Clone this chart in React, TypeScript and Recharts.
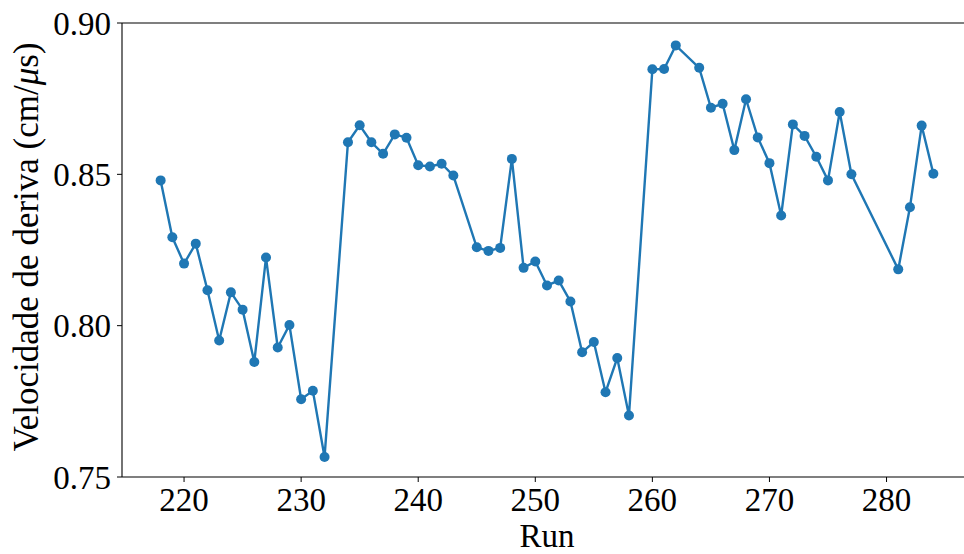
import React from 'react';
import { LineChart, Line, XAxis, YAxis, ReferenceLine } from 'recharts';

const runs = [
  218, 219, 220, 221, 222, 223, 224, 225, 226, 227, 228, 229, 230, 231, 232,
  234, 235, 236, 237, 238, 239, 240, 241, 242, 243, 245, 246, 247, 248, 249,
  250, 251, 252, 253, 254, 255, 256, 257, 258, 260, 261, 262, 264, 265, 266,
  267, 268, 269, 270, 271, 272, 273, 274, 275, 276, 277, 281, 282, 283, 284,
];

const velocities = [
  0.8480, 0.8292, 0.8205, 0.8271, 0.8117, 0.7951, 0.8110, 0.8053, 0.7880, 0.8225,
  0.7928, 0.8002, 0.7757, 0.7785, 0.7566,
  0.8606, 0.8662, 0.8606, 0.8568, 0.8632, 0.8621, 0.8530, 0.8526, 0.8535, 0.8496,
  0.8259, 0.8247, 0.8257, 0.8551, 0.8191,
  0.8212, 0.8133, 0.8149, 0.8080, 0.7912, 0.7946, 0.7780, 0.7893, 0.7703,
  0.8847, 0.8848, 0.8926, 0.8852, 0.8720, 0.8733,
  0.8580, 0.8748, 0.8622, 0.8537, 0.8364, 0.8665, 0.8627, 0.8558, 0.8480,
  0.8706, 0.8500, 0.8186, 0.8391, 0.8661, 0.8502,
];

const xTicks = [220, 230, 240, 250, 260, 270, 280];
const yTicks = [0.75, 0.8, 0.85, 0.9];

const data = runs.map((run, i) => ({ run, v: velocities[i] }));

const font = '"Liberation Serif", "Times New Roman", serif';
const blue = '#1f77b4';

const YLabel = () => (
  <text
    x={38}
    y={247}
    transform="rotate(-90 38 247)"
    textAnchor="middle"
    fontFamily={font}
    fontSize={35}
    fill="#000"
  >
    Velocidade de deriva (cm/<tspan fontStyle="italic">μ</tspan>s)
  </text>
);

export default function App() {
  return (
    <div style={{ position: 'absolute', left: 0, top: 0, width: 964, height: 554, overflow: 'hidden', background: '#fff' }}>
      <LineChart width={980} height={554} data={data} margin={{ top: 23, right: 8, bottom: 0, left: 0 }}>
        <XAxis
          dataKey="run"
          type="number"
          domain={[214.7, 287.3]}
          allowDataOverflow
          ticks={xTicks}
          height={77}
          tickSize={5}
          tickMargin={6}
          stroke="#000"
          tick={{ fill: '#000', fontFamily: font, fontSize: 33 }}
          tickLine={{ stroke: '#000' }}
          axisLine={{ stroke: '#000', strokeWidth: 1.1 }}
          label={{ value: 'Run', position: 'insideBottom', offset: 7, fill: '#000', fontFamily: font, fontSize: 33 }}
        />
        <YAxis
          type="number"
          domain={[0.75, 0.9]}
          allowDataOverflow
          ticks={yTicks}
          width={122}
          tickSize={5}
          tickMargin={6}
          stroke="#000"
          tickFormatter={(t: number) => t.toFixed(2)}
          tick={{ fill: '#000', fontFamily: font, fontSize: 33 }}
          tickLine={{ stroke: '#000' }}
          axisLine={{ stroke: '#000', strokeWidth: 1.1 }}
          label={<YLabel />}
        />
        <ReferenceLine y={0.9} stroke="#000" strokeWidth={1.1} />
        <ReferenceLine x={287.3} stroke="#000" strokeWidth={1.1} />
        <Line
          type="linear"
          dataKey="v"
          stroke={blue}
          strokeWidth={2.4}
          dot={{ r: 5, fill: blue, stroke: blue, strokeWidth: 0 }}
          activeDot={false}
          isAnimationActive={false}
        />
      </LineChart>
    </div>
  );
}
